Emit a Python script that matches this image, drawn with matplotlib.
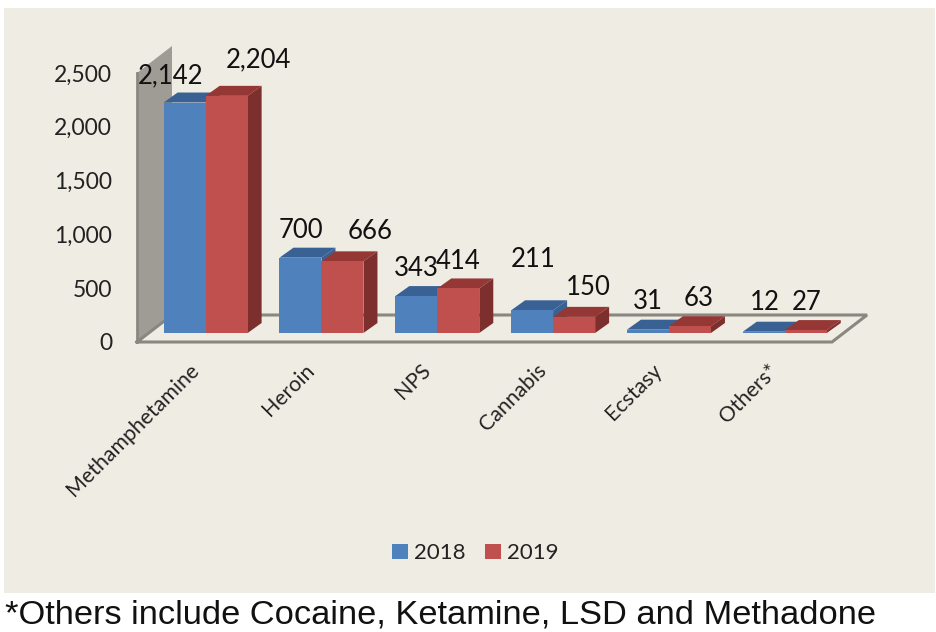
import matplotlib
matplotlib.use("Agg")
import matplotlib.pyplot as plt
from matplotlib.patches import Polygon, Rectangle

categories = ["Methamphetamine", "Heroin", "NPS", "Cannabis", "Ecstasy", "Others*"]
years = ["2018", "2019"]
values_2018 = [2142, 700, 343, 211, 31, 12]
values_2019 = [2204, 666, 414, 150, 63, 27]
y_ticks = [0, 500, 1000, 1500, 2000, 2500]

# label nudges in pixels from the top middle of each bar
nudge_2018 = [(-14, 27), (0, 27), (0, 28), (1, 51), (0, 28), (1, 29)]
nudge_2019 = [(32, 36), (28, 30), (0, 27), (14, 29), (9, 28), (1, 28)]

W, H = 937, 632
# plot box in pixels, measured from the top left
LEFT, RIGHT, TOP, BOTTOM = 137, 832, 73, 342

plt.rcParams["font.family"] = ["Lato", "DejaVu Sans"]

fig = plt.figure(figsize=(W / 100, H / 100), dpi=100, facecolor="white")
fig.patches.append(Rectangle((4 / W, 1 - 593 / H), 931 / W, 585 / H, transform=fig.transFigure,
                             facecolor="#EFECE3", edgecolor="none", zorder=-5))

ax = fig.add_axes([LEFT / W, 1 - BOTTOM / H, (RIGHT - LEFT) / W, (BOTTOM - TOP) / H])
ax.set_xlim(-0.5, len(categories) - 0.5)
ax.set_ylim(0, 2500)
ax.patch.set_alpha(0)
for s in ax.spines.values():
  s.set_visible(False)

# pixel lengths expressed in data units
px_x = (len(categories)) / (RIGHT - LEFT)
px_y = 2500 / (BOTTOM - TOP)


def addFace(points, color, z, edge="none", lw=0):
  ax.add_patch(Polygon(points, closed=True, facecolor=color, edgecolor=edge, linewidth=lw,
                       zorder=z, clip_on=False))


def drawBox(x0, x1, y0, y1, front, top, side, z):
  """
  Draws one bar as a front face with a top and a side going back into the chart.
  """
  dx, dy = 14 * px_x, 10 * px_y
  addFace([(x0, y1), (x1, y1), (x1 + dx, y1 + dy), (x0 + dx, y1 + dy)], top, z)
  addFace([(x1, y0), (x1 + dx, y0 + dy), (x1 + dx, y1 + dy), (x1, y1)], side, z)
  addFace([(x0, y0), (x1, y0), (x1, y1), (x0, y1)], front, z + 0.1)


# back wall and floor
wall_dx, wall_dy = 35 * px_x, 27 * px_y
x_a, x_b = ax.get_xlim()
addFace([(x_a, 0), (x_a + wall_dx, wall_dy), (x_a + wall_dx, 2500 + wall_dy), (x_a, 2500)],
        "#9E9C94", 1)
ax.plot([x_a, x_a], [0, 2500], color="#8A8780", linewidth=2, zorder=1.5, clip_on=False)
ax.plot([x_a, x_b, x_b + wall_dx, x_a + wall_dx, x_a],
        [0, 0, wall_dy, wall_dy, 0], color="#8A8780", linewidth=2.2, zorder=1.5, clip_on=False,
        solid_joinstyle="miter")

bar_w = 42 * px_x
shift_x = 10.7 * px_x
base = 9 * px_y

for i in range(len(categories)):
  xc = i + shift_x
  drawBox(xc - bar_w, xc, base, base + values_2018[i], "#4F81BD", "#3A6194", "#3A6194", 2 + i)
  drawBox(xc, xc + bar_w, base, base + values_2019[i], "#C0504D", "#953735", "#7D2F2D", 2.3 + i)
  ax.annotate(f"{values_2018[i]:,}", (xc - bar_w / 2, base + values_2018[i]),
              xytext=nudge_2018[i], textcoords="offset pixels", ha="center", va="center",
              fontsize=18.5, color="#111111", zorder=20, annotation_clip=False)
  ax.annotate(f"{values_2019[i]:,}", (xc + bar_w / 2, base + values_2019[i]),
              xytext=nudge_2019[i], textcoords="offset pixels", ha="center", va="center",
              fontsize=18.5, color="#111111", zorder=20, annotation_clip=False)

ax.set_yticks(y_ticks)
ax.set_yticklabels([f"{v:,}" for v in y_ticks], fontsize=16.5, color="#222222")
ax.tick_params(axis="y", length=0, pad=18)

# rotated names end a little left of each group's middle
ax.set_xticks([i + shift_x - 17 * px_x for i in range(len(categories))])
ax.set_xticklabels(categories, rotation=45, ha="right", rotation_mode="anchor",
                   fontsize=15.3, color="#222222")
ax.tick_params(axis="x", length=0, pad=13)

# legend swatches are the same colours as the front faces
handles = [Rectangle((0, 0), 1, 1, facecolor=c, edgecolor="none") for c in ("#4F81BD", "#C0504D")]
fig.legend(handles, years, loc="center", bbox_to_anchor=(475 / W, 1 - 553 / H), ncol=2, frameon=False,
           fontsize=16, handlelength=0.72, handleheight=0.65, handletextpad=0.28, columnspacing=0.85,
           labelcolor="#222222")

fig.text(5 / W, 1 - 615 / H, "*Others include Cocaine, Ketamine, LSD and Methadone",
         family="Liberation Sans", fontsize=24.75, color="#111111", ha="left", va="center")

fig.savefig("out.png", dpi=100)
